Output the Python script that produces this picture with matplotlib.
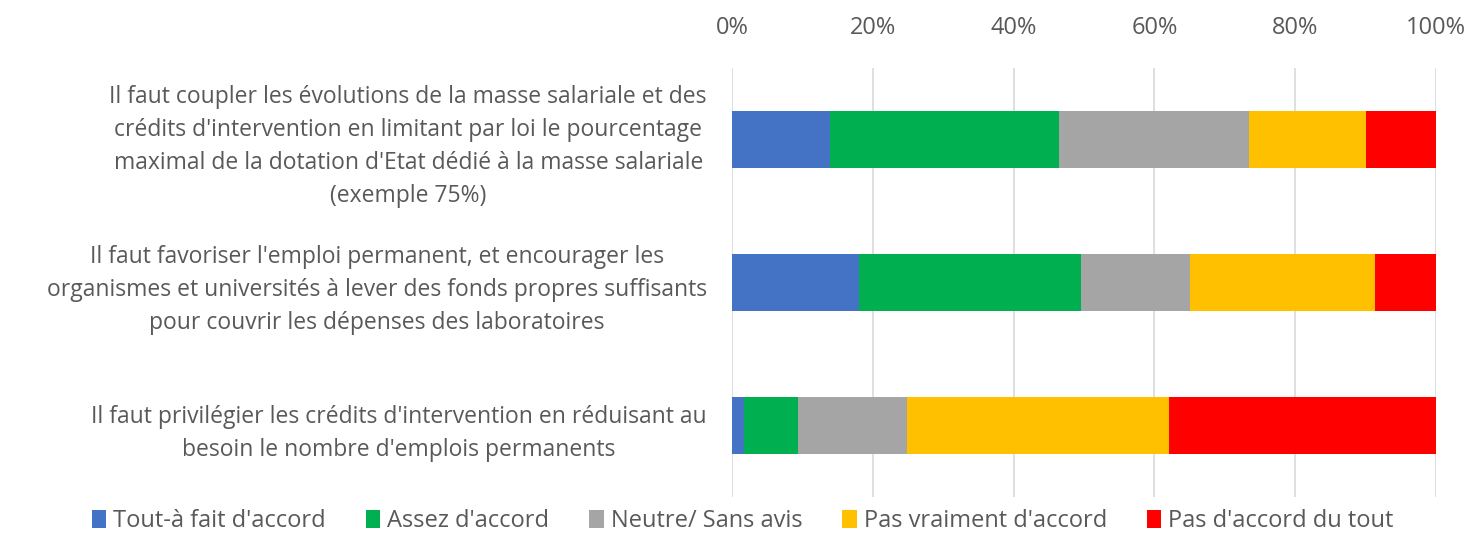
import matplotlib
matplotlib.use('Agg')
import matplotlib.pyplot as plt
import numpy as np
from matplotlib.ticker import PercentFormatter

plt.rcParams['font.family'] = ['Open Sans', 'DejaVu Sans']

# Libellés des questions (de haut en bas)
questions = [
    "Il faut coupler les évolutions de la masse salariale et des\n"
    "crédits d'intervention en limitant par loi le pourcentage\n"
    "maximal de la dotation d'Etat dédié à la masse salariale\n"
    "(exemple 75%)",
    "Il faut favoriser l'emploi permanent, et encourager les\n"
    "organismes et universités à lever des fonds propres suffisants\n"
    "pour couvrir les dépenses des laboratoires",
    "Il faut privilégier les crédits d'intervention en réduisant au\n"
    "besoin le nombre d'emplois permanents",
]

categories = ["Tout-à fait d'accord", "Assez d'accord", "Neutre/ Sans avis",
              "Pas vraiment d'accord", "Pas d'accord du tout"]
colors = ['#4472C4', '#00B050', '#A5A5A5', '#FFC000', '#FF0000']

# Parts en % par question
tout_a_fait = [13.9, 18.0, 1.7]
assez = [32.5, 31.6, 7.7]
neutre = [27.0, 15.5, 15.5]
pas_vraiment = [16.7, 26.2, 37.2]
pas_du_tout = [9.9, 8.7, 37.9]

series = [tout_a_fait, assez, neutre, pas_vraiment, pas_du_tout]

fig = plt.figure(figsize=(14.71, 5.35), dpi=100)
ax = fig.add_axes([0.4976, 0.071, 0.4786, 0.802])

y = np.arange(len(questions))
left = np.zeros(len(questions))
for vals, name, col in zip(series, categories, colors):
    ax.barh(y, vals, left=left, height=0.4, color=col, label=name, zorder=3)
    left += np.array(vals)

ax.set_ylim(2.5, -0.5)
ax.set_xlim(0, 100)
ax.set_xticks([0, 20, 40, 60, 80, 100])
ax.xaxis.set_major_formatter(PercentFormatter(decimals=0))
ax.xaxis.tick_top()
ax.tick_params(axis='x', length=0, labelsize=17, labelcolor='#595959', pad=20)
ax.tick_params(axis='y', length=0, pad=18)
ax.set_yticks(y)
ax.set_yticklabels(questions, fontsize=16.5, color='#595959', multialignment='center',
                   linespacing=1.5)
ax.grid(axis='x', color='#D9D9D9', linewidth=1.2, zorder=0)
for s in ax.spines.values():
    s.set_visible(False)

fig.legend(loc='lower center', bbox_to_anchor=(0.505, -0.036), ncol=5, frameon=False,
           fontsize=17, handlelength=0.6, handleheight=0.8, handletextpad=0.3,
           columnspacing=1.7, labelcolor='#595959')

fig.savefig('out.png', dpi=100)
